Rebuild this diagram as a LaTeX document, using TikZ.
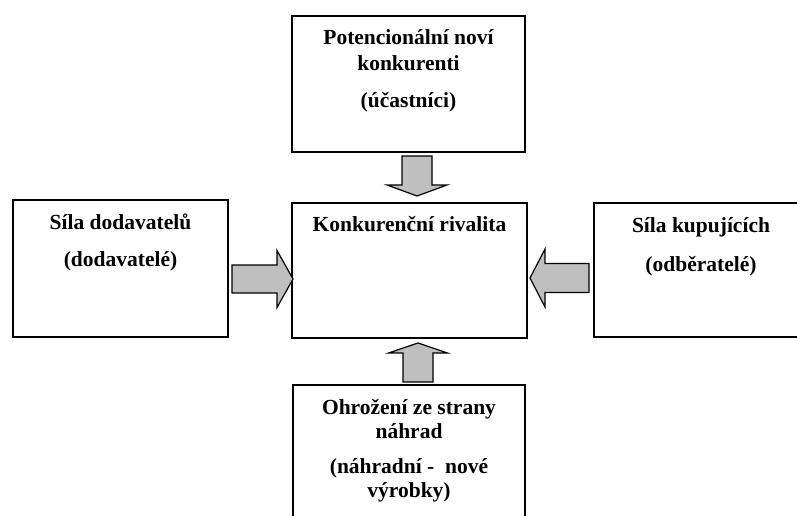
\documentclass[tikz,border=0pt]{standalone}
\usepackage{fontspec}
\setmainfont{Liberation Serif}
\usetikzlibrary{calc}

\tikzset{
  box/.style={draw=black, line width=1.6pt, fill=white, inner sep=0pt},
  label/.style={font=\fontsize{21.5}{26}\selectfont\bfseries, align=center, inner sep=0pt, anchor=north},
  blockarrow/.style={draw=black, line width=1.2pt, fill=black!25, line join=miter},
}

% block arrow: #1 tail, #2 tip, #3 shaft half width, #4 head half width, #5 head length
\newcommand\fatarrow[5]{%
  \coordinate (hb) at ($(#2)!#5!(#1)$);
  \draw[blockarrow]
    ($(#1)!#3!90:(#2)$) -- ($(hb)!#3!90:(#2)$) -- ($(hb)!#4!90:(#2)$) -- (#2)
    -- ($(hb)!#4!-90:(#2)$) -- ($(hb)!#3!-90:(#2)$) -- ($(#1)!#3!-90:(#2)$) -- cycle;
}

\begin{document}
\begin{tikzpicture}[x=1pt, y=-1pt]
  \useasboundingbox (0,0) rectangle (797,516);
  \clip (0,0) rectangle (797,516);

  % the five boxes
  \node[box, minimum width=233pt, minimum height=136pt] (entrants)   at (408.5,84) {};
  \node[box, minimum width=235pt, minimum height=135pt] (rivalry)    at (409.5,270.5) {};
  \node[box, minimum width=215pt, minimum height=137pt] (suppliers)  at (120.5,268.5) {};
  \node[box, minimum width=214pt, minimum height=134pt] (buyers)     at (701,270) {};
  \node[box, minimum width=232pt, minimum height=150pt] (substitutes) at (409,460) {};

  % texts
  \node[label] (entrants-t) at ($(entrants.north)+(0,14)$)
    {Potencionální noví\\konkurenti\\[11pt](účastníci)};
  \node[label] (rivalry-t) at ($(rivalry.north)+(0,14)$)
    {Konkurenční rivalita};
  \node[label] (suppliers-t) at ($(suppliers.north)+(0,15)$)
    {Síla dodavatelů\\[11pt](dodavatelé)};
  \node[label] (buyers-t) at ($(buyers.north)+(0,15)$)
    {Síla kupujících\\[13pt](odběratelé)};
  \node[label, font=\fontsize{21.5}{24}\selectfont\bfseries] (substitutes-t)
    at ($(substitutes.north)+(0,15)$)
    {Ohrožení ze strany\\náhrad\\[11pt](náhradní -\ \ nové\\výrobky)};

  % forces pointing at the rivalry box
  \coordinate (a1s) at (417,156);  \coordinate (a1e) at (417,196);
  \coordinate (a2s) at (232,279);  \coordinate (a2e) at (293,279);
  \coordinate (a3s) at (589,278);  \coordinate (a3e) at (530,278);
  \coordinate (a4s) at (418,382);  \coordinate (a4e) at (418,343);
  \fatarrow{a1s}{a1e}{15pt}{30pt}{11pt}
  \fatarrow{a2s}{a2e}{14pt}{28.5pt}{16pt}
  \fatarrow{a3s}{a3e}{14.5pt}{29pt}{15pt}
  \fatarrow{a4s}{a4e}{15pt}{29.5pt}{10pt}
\end{tikzpicture}
\end{document}
